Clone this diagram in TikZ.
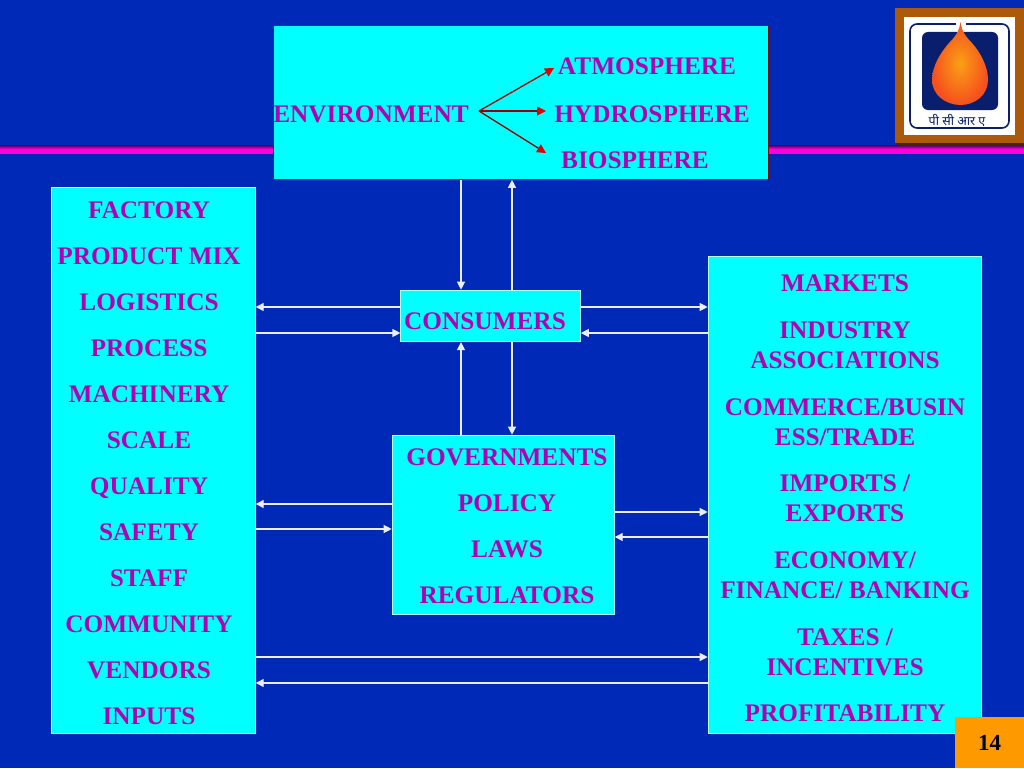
\documentclass[tikz,border=0pt]{standalone}
\usepackage{fontspec}
\setmainfont{Liberation Serif}
\newfontfamily\devafont[Script=Devanagari]{Noto Sans}
\usetikzlibrary{arrows.meta,positioning,calc}
\definecolor{slideblue}{RGB}{0,41,184}
\definecolor{boxcyan}{RGB}{0,255,255}
\definecolor{labelpink}{RGB}{180,0,180}
\definecolor{barpink}{RGB}{255,0,220}
\definecolor{bardark}{RGB}{70,0,100}
\definecolor{logobrown}{RGB}{170,90,10}
\definecolor{logonavy}{RGB}{10,30,110}
\definecolor{dropinner}{RGB}{250,160,20}
\definecolor{dropouter}{RGB}{245,80,30}
\definecolor{pageorange}{RGB}{255,153,0}
\begin{document}
\begin{tikzpicture}[
      x=1pt,y=-1pt,
      cyanbox/.style={
         rectangle,
         draw=#1,
         line width=0.8pt,
         fill=boxcyan,
         anchor=north west,
         inner sep=0pt
      },
      boxlabel/.style={
         font=\bfseries\fontsize{25.3}{30.6}\selectfont,
         text=labelpink,
         inner sep=0pt,
         text depth=0pt,
         align=center
      },
      flow/.style={-{Triangle[length=8pt,width=8pt]},draw=white!92!slideblue,line width=1.2pt},
      redflow/.style={-{Triangle[length=9pt,width=9pt,color=red!90!black]},draw=red!60!black,line width=1.3pt},
    ]
    \useasboundingbox (0,0) rectangle (1024,768);
    \fill[slideblue] (0,0) rectangle (1024,768);
    % stripe
    \shade[top color=bardark,bottom color=barpink] (0,145) rectangle (1024,149);
    \fill[barpink] (0,149) rectangle (1024,154);
    % boxes
    \node (environment) [cyanbox=red!60!black, minimum width=495pt, minimum height=154pt] at (272.7,25) {};
    \node (factory) [cyanbox=white!70!boxcyan, minimum width=204.2pt, minimum height=546.5pt] at (50.7,186.7) {};
    \node (consumers) [cyanbox=white!70!boxcyan, minimum width=179.6pt, minimum height=51.6pt] at (400.4,289.7) {};
    \node (governments) [cyanbox=white!70!boxcyan, minimum width=222.2pt, minimum height=179.2pt] at (391.7,434.7) {};
    \node (markets) [cyanbox=white!70!boxcyan, minimum width=273.2pt, minimum height=477.5pt] at (707.7,255.7) {};
    % environment
    \node (env) [boxlabel] at (371,114) {ENVIRONMENT};
    \node (atm) [boxlabel] at (647,66) {ATMOSPHERE};
    \node (hyd) [boxlabel] at (652,114) {HYDROSPHERE};
    \node (bio) [boxlabel] at (635,160) {BIOSPHERE};
    \coordinate (fork) at (479,111);
    \draw[redflow] (fork) -- (554,68);
    \draw[redflow] (fork) -- (546,111);
    \draw[redflow] (fork) -- (546,153);
    % factory list
    \foreach \name [count=\i from 0] in {FACTORY,PRODUCT MIX,LOGISTICS,PROCESS,MACHINERY,SCALE,QUALITY,SAFETY,STAFF,COMMUNITY,VENDORS,INPUTS}
      \node (f\i) [boxlabel] at (149,{210+46*\i}) {\name};
    % middle
    \node (con) [boxlabel] at (485,321) {CONSUMERS};
    \node (g1) [boxlabel] at (507,457) {GOVERNMENTS};
    \node (g2) [boxlabel] at (507,503) {POLICY};
    \node (g3) [boxlabel] at (507,549) {LAWS};
    \node (g4) [boxlabel] at (507,595) {REGULATORS};
    % markets list
    \node (m1) [boxlabel] at (845,283) {MARKETS};
    \node (m2) [boxlabel] at (845,345) {INDUSTRY\\[0pt]ASSOCIATIONS};
    \node (m3) [boxlabel] at (845,422) {COMMERCE/BUSIN\\[0pt]ESS/TRADE};
    \node (m4) [boxlabel] at (845,498) {IMPORTS /\\[0pt]EXPORTS};
    \node (m5) [boxlabel] at (845,575) {ECONOMY/\\[0pt]FINANCE/ BANKING};
    \node (m6) [boxlabel] at (845,652) {TAXES /\\[0pt]INCENTIVES};
    \node (m7) [boxlabel] at (845,713) {PROFITABILITY};
    % connectors
    \coordinate (v1) at (461,0);
    \coordinate (v2) at (512,0);
    \draw[flow] (environment.south -| v1) -- (consumers.north -| v1);
    \draw[flow] (consumers.north -| v2) -- (environment.south -| v2);
    \draw[flow] (governments.north -| v1) -- (consumers.south -| v1);
    \draw[flow] (consumers.south -| v2) -- (governments.north -| v2);
    \coordinate (h1) at (0,307);
    \coordinate (h2) at (0,333);
    \coordinate (h3) at (0,504);
    \coordinate (h4) at (0,529);
    \coordinate (h5) at (0,512);
    \coordinate (h6) at (0,537);
    \coordinate (h7) at (0,657);
    \coordinate (h8) at (0,683);
    \draw[flow] (consumers.west |- h1) -- (factory.east |- h1);
    \draw[flow] (factory.east |- h2) -- (consumers.west |- h2);
    \draw[flow] (consumers.east |- h1) -- (markets.west |- h1);
    \draw[flow] (markets.west |- h2) -- (consumers.east |- h2);
    \draw[flow] (governments.west |- h3) -- (factory.east |- h3);
    \draw[flow] (factory.east |- h4) -- (governments.west |- h4);
    \draw[flow] (governments.east |- h5) -- (markets.west |- h5);
    \draw[flow] (markets.west |- h6) -- (governments.east |- h6);
    \draw[flow] (factory.east |- h7) -- (markets.west |- h7);
    \draw[flow] (markets.west |- h8) -- (factory.east |- h8);
    % logo
    \fill[black!60!logobrown] (898,11) rectangle (1024,146);
    \fill[logobrown] (895,8) rectangle (1024,143);
    \fill[white] (904,17) rectangle (1015,135);
    \draw[logonavy,line width=1.6pt,rounded corners=7pt] (910,24) rectangle (1009,128);
    \fill[logonavy,rounded corners=6pt] (922,32) rectangle (998,110);
    \fill[white] (956,21) rectangle (966,27);
    \shade[inner color=dropinner,outer color=dropouter]
      (960.5,22) .. controls (962,32) and (966,37) .. (972,43)
      .. controls (980,52) and (988,66) .. (988,80)
      .. controls (988,95) and (975,105) .. (960.5,105)
      .. controls (946,105) and (932,95) .. (932,80)
      .. controls (932,66) and (941,52) .. (949,43)
      .. controls (955,37) and (959,32) .. (960.5,22) -- cycle;
    \node (logotext) [font=\devafont\fontsize{12.5}{14}\selectfont,text=logonavy,inner sep=0pt] at (957,120) {पी सी आर ए};
    % page number
    \node (page) [rectangle,fill=pageorange,anchor=north west,minimum width=69pt,minimum height=51pt,inner sep=0pt,font=\bfseries\fontsize{23}{28}\selectfont] at (955,717) {14};
\end{tikzpicture}
\end{document}
